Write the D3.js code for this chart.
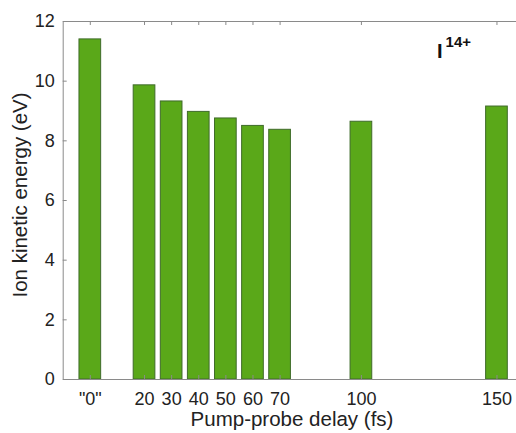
<!DOCTYPE html>
<html><head><meta charset="utf-8">
<script src="https://cdn.jsdelivr.net/npm/d3@7"></script>
<style>
html,body{margin:0;padding:0;background:#fff;}
svg{display:block;font-family:"Liberation Sans",Arial,Helvetica,sans-serif;}
</style></head>
<body>
<svg id="chart" width="516" height="433"></svg>
<script>
const delays = [0, 20, 30, 40, 50, 60, 70, 100, 150];
const tickLabels = ['"0"', "20", "30", "40", "50", "60", "70", "100", "150"];
const energies = [11.40, 9.86, 9.32, 8.97, 8.75, 8.50, 8.37, 8.64, 9.15];
const yTicks = [0, 2, 4, 6, 8, 10, 12];

(function () {
const svg = d3.select("#chart");
const mLeft = 62.7, mTop = 21, mBottom = 379;
const x = d3.scaleLinear().domain([-10, 160]).range([mLeft, mLeft + 170 * 2.711]);
const y = d3.scaleLinear().domain([0, 12]).range([mBottom, mTop]);
const barW = x(8) - x(0);
const axisColor = "#8a8a8a";
const txt = "#222";

// bars
svg.append("g").selectAll("rect").data(delays).join("rect")
  .attr("x", (d) => x(d) - barW / 2)
  .attr("y", (d, i) => y(energies[i]))
  .attr("width", barW)
  .attr("height", (d, i) => y(0) - y(energies[i]))
  .attr("fill", "#5aa819")
  .attr("stroke", "#3f6b2a")
  .attr("stroke-width", 1);

// bottom axis
const xb = svg.append("g").attr("transform", `translate(0,${mBottom})`)
  .call(d3.axisBottom(x).tickValues(delays).tickFormat((d, i) => tickLabels[i]).tickSizeInner(-4).tickSizeOuter(0).tickPadding(13));
xb.select(".domain").attr("stroke", axisColor);
xb.selectAll(".tick line").attr("stroke", axisColor);
xb.selectAll(".tick text").attr("font-size", 18).attr("fill", txt).attr("font-family", "Liberation Sans, Arial, sans-serif");

// top axis (ticks only)
const xt = svg.append("g").attr("transform", `translate(0,${mTop})`)
  .call(d3.axisTop(x).tickValues(delays).tickFormat("").tickSizeInner(-4).tickSizeOuter(0));
xt.select(".domain").attr("stroke", axisColor);
xt.selectAll(".tick line").attr("stroke", axisColor);

// left axis
const yl = svg.append("g").attr("transform", `translate(${mLeft},0)`)
  .call(d3.axisLeft(y).tickValues(yTicks).tickSizeInner(-4).tickSizeOuter(0).tickPadding(8));
yl.select(".domain").attr("stroke", axisColor);
yl.selectAll(".tick line").attr("stroke", axisColor);
yl.selectAll(".tick text").attr("font-size", 18).attr("fill", txt).attr("font-family", "Liberation Sans, Arial, sans-serif");

// axis titles
svg.append("text").attr("x", 292).attr("y", 426)
  .attr("text-anchor", "middle").attr("font-size", 20.5).attr("fill", txt)
  .text("Pump-probe delay (fs)");
svg.append("text").attr("transform", `translate(27,195) rotate(-90)`)
  .attr("text-anchor", "middle").attr("font-size", 20.5).attr("fill", txt)
  .text("Ion kinetic energy (eV)");

// annotation
const ann = svg.append("text").attr("x", 437).attr("y", 58).attr("font-weight", "bold").attr("fill", "#111");
ann.append("tspan").attr("font-size", 20).text("I");
ann.append("tspan").attr("font-size", 15).attr("dy", -11).attr("dx", 3).text("14+");
})();
</script>
</body></html>
